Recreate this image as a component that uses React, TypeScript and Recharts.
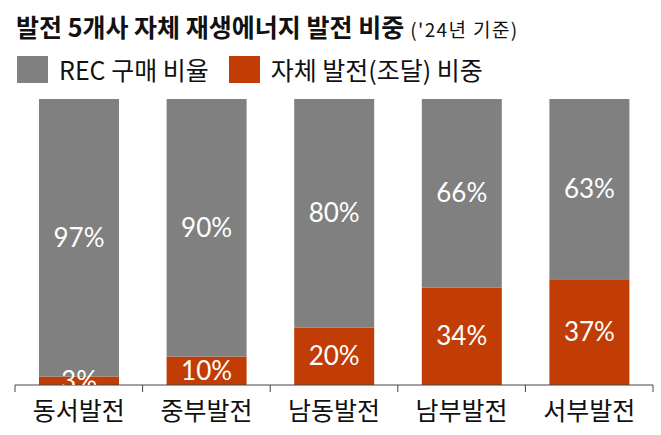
import { BarChart, Bar, XAxis, YAxis, LabelList } from "recharts";

const categories = ["동서발전", "중부발전", "남동발전", "남부발전", "서부발전"];
const recShare = [97, 90, 80, 66, 63];
const ownShare = [3, 10, 20, 34, 37];

const GREY = "#808080";
const ORANGE = "#C13D05";
const AXIS = "#444";
const FONT = "'Noto Sans CJK KR', 'Noto Sans', sans-serif";

const data = categories.map((name, i) => ({ name, rec: recShare[i], own: ownShare[i] }));

// label clipped at the bottom of its own segment, so the small 3% gets cut by the axis
const renderLabel = (props: any) => {
  const { x, y, width, height, value, index } = props;
  const id = `clip-${index}-${Math.round(y)}`;
  return (
    <g>
      <defs>
        <clipPath id={id}>
          <rect x={x - 40} y={y - 60} width={width + 80} height={height + 60} />
        </clipPath>
      </defs>
      <text
        x={x + width / 2}
        y={y + height / 2}
        dy={9}
        textAnchor="middle"
        fill="#fff"
        fontSize={26}
        fontFamily="Lato, sans-serif"
        clipPath={`url(#${id})`}
      >
        {value}%
      </text>
    </g>
  );
};

// category tick with boundary tick marks at the edges of each band
const CategoryTick = (props: any) => {
  const { x, y, payload, index, visibleTicksCount } = props;
  const half = payload.offset ?? 0;
  const axisY = y - 8;
  const last = index === (visibleTicksCount ?? categories.length) - 1;
  return (
    <g>
      <line x1={x - half} x2={x - half} y1={axisY} y2={axisY + 7} stroke={AXIS} />
      {last && <line x1={x + half} x2={x + half} y1={axisY} y2={axisY + 7} stroke={AXIS} />}
      <text x={x} y={axisY + 35} textAnchor="middle" fill="#111" fontSize={25} fontFamily={FONT}>
        {payload.value}
      </text>
    </g>
  );
};

function LegendItem({ color, label }: { color: string; label: string }) {
  return (
    <div style={{ display: "flex", alignItems: "center", marginRight: 20 }}>
      <div style={{ width: 31, height: 27, background: color, marginRight: 11 }} />
      <span>{label}</span>
    </div>
  );
}

export default function App() {
  return (
    <div style={{ position: "absolute", left: 0, top: 0, width: 661, height: 435, background: "#fff", fontFamily: FONT }}>
      <div style={{ position: "absolute", left: 16, top: 8, whiteSpace: "nowrap", color: "#111", display: "flex", alignItems: "baseline" }}>
        <span style={{ fontSize: 25, fontWeight: 700, letterSpacing: 0 }}>발전 5개사 자체 재생에너지 발전 비중</span>
        <span style={{ fontSize: 19, marginLeft: 6, letterSpacing: 1.4 }}>('24년 기준)</span>
      </div>
      <div style={{ position: "absolute", left: 17, top: 51, display: "flex", fontSize: 25, color: "#111", whiteSpace: "nowrap" }}>
        <LegendItem color={GREY} label="REC 구매 비율" />
        <LegendItem color={ORANGE} label="자체 발전(조달) 비중" />
      </div>
      <div style={{ position: "absolute", left: 0, top: 0 }}>
        <BarChart width={661} height={435} data={data} margin={{ top: 99, right: 8, left: 15, bottom: 0 }} barSize={80}>
          <YAxis hide domain={[0, 100]} />
          <XAxis
            dataKey="name"
            height={50}
            axisLine={{ stroke: AXIS }}
            tickLine={false}
            tick={<CategoryTick />}
            interval={0}
          />
          <Bar dataKey="own" stackId="a" fill={ORANGE} isAnimationActive={false}>
            <LabelList dataKey="own" content={renderLabel} />
          </Bar>
          <Bar dataKey="rec" stackId="a" fill={GREY} isAnimationActive={false}>
            <LabelList dataKey="rec" content={renderLabel} />
          </Bar>
        </BarChart>
      </div>
    </div>
  );
}
